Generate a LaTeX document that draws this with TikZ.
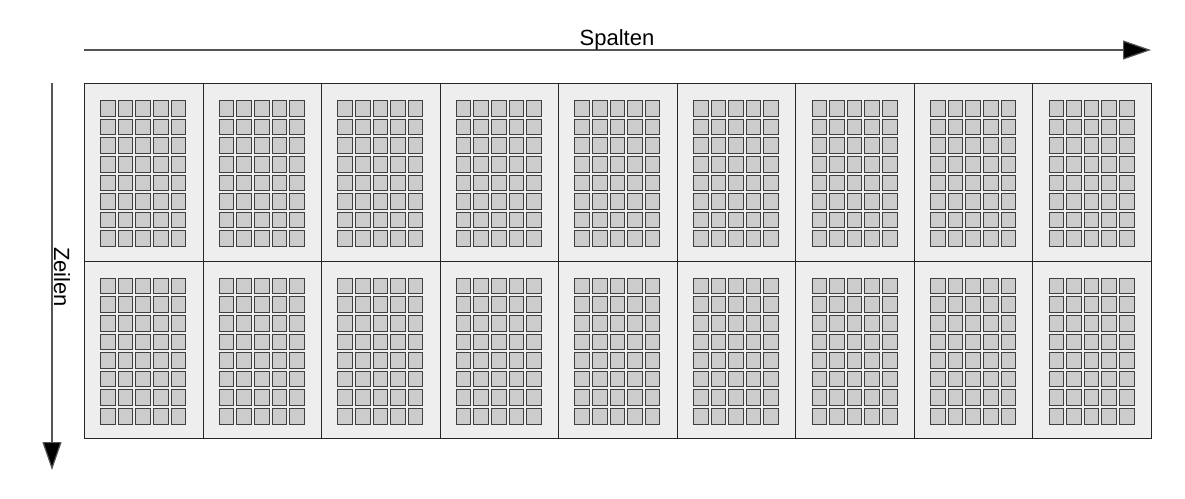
\documentclass[tikz,border=0pt]{standalone}
\usepackage{fontspec}
\setmainfont{Liberation Sans}
\usetikzlibrary{arrows.meta}
\definecolor{blockfill}{HTML}{EEEEEE}
\definecolor{cellfill}{HTML}{CCCCCC}
\definecolor{cellline}{HTML}{404040}
\definecolor{arrline}{HTML}{555555}
\begin{document}
\begin{tikzpicture}[x=1pt,y=-1pt,
  blockbox/.style={draw=black!85,fill=blockfill,line width=1pt,minimum width=118.56pt,minimum height=177.5pt,inner sep=0pt,anchor=north west},
  cellbox/.style={draw=cellline,fill=cellfill,line width=1pt,minimum width=14.6pt,minimum height=15.6pt,inner sep=0pt,anchor=north west},
  axisarrow/.style={draw=arrline,line width=1.2pt,-{Triangle[width=19pt,length=28pt,fill=black]}},
  axislabel/.style={font=\fontsize{22}{24}\selectfont,inner sep=0pt}]
\useasboundingbox (0,0) rectangle (1185,498);
\fill[white] (0,0) rectangle (1185,498);
\foreach \r in {0,1}{
  \foreach \c in {0,...,8}{
    \pgfmathsetmacro{\bx}{84+\c*118.56}
    \pgfmathsetmacro{\by}{83+\r*177.5}
    \node[blockbox] (b\r\c) at (\bx,\by) {};
    \foreach \i in {0,...,4}{
      \foreach \j in {0,...,7}{
        \pgfmathsetmacro{\sx}{\bx+16.2+\i*17.6}
        \pgfmathsetmacro{\sy}{\by+17.2+\j*18.6}
        \node[cellbox] (s\r\c\i\j) at (\sx,\sy) {};
      }
    }
  }
}
\coordinate (hs) at (84,50);
\coordinate (he) at (1151,50);
\coordinate (vs) at (52,83);
\coordinate (ve) at (52,470);
\draw[axisarrow] (hs) -- (he);
\draw[axisarrow] (vs) -- (ve);
\node[axislabel] (spalten) at (617,40) {Spalten};
\node[axislabel,rotate=-90] (zeilen) at (62,277) {Zeilen};
\end{tikzpicture}
\end{document}
